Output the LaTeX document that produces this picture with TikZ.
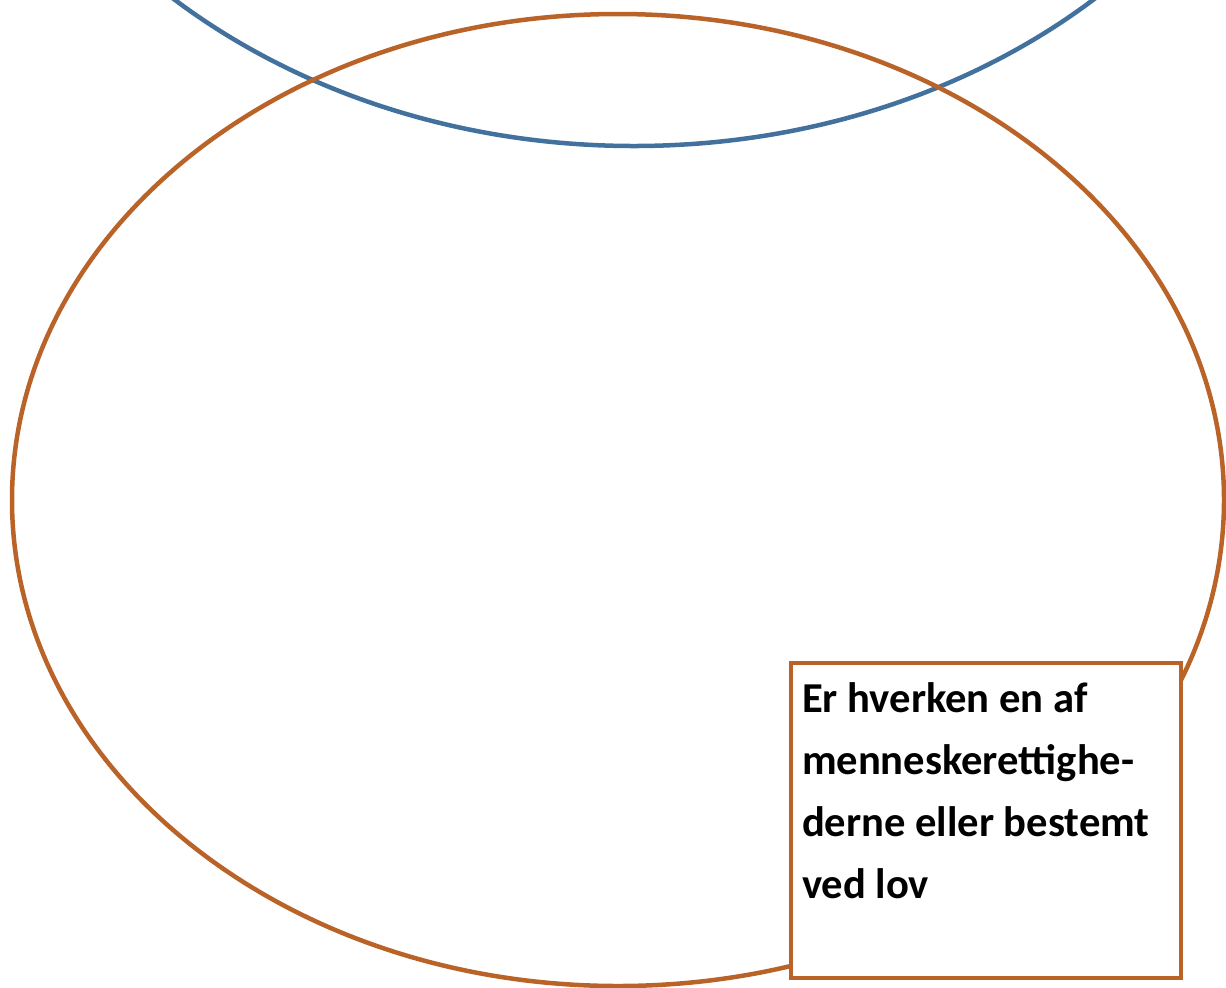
\documentclass[tikz,border=0pt]{standalone}
\usepackage{fontspec}
\setmainfont{Carlito}
\definecolor{ovalblue}{RGB}{65,113,156}
\definecolor{ovalorange}{RGB}{185,99,40}

\begin{document}
\begin{tikzpicture}[x = 0.5pt, y = -0.5pt]
\useasboundingbox (0,0) rectangle (1226,987);

\draw[line width = 2.25pt, ovalblue] (634,-415) ellipse [x radius = 682, y radius = 561];
\draw[line width = 2.25pt, ovalorange] (618,500) ellipse [x radius = 606, y radius = 486];

\node[draw = ovalorange, line width = 2.25pt, fill = white, anchor = north west, outer sep = 0pt,
      inner xsep = 5.5pt, inner ysep = 10pt,
      font = \bfseries\fontsize{21.3}{30.85}\selectfont] (note) at (791,663)
  {\parbox[t][137.5pt][t]{184pt}{\raggedright Er hverken en af\\ menneskerettighe-\\ derne eller bestemt\\ ved lov}};
\end{tikzpicture}
\end{document}
